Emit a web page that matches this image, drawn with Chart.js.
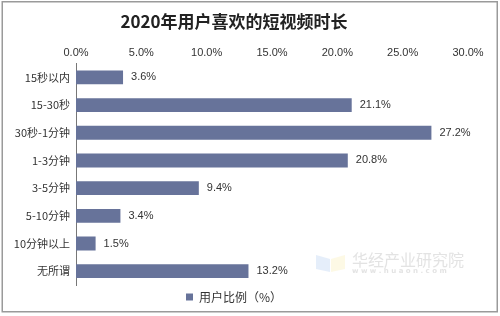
<!DOCTYPE html>
<html><head><meta charset="utf-8">
<script src="https://cdn.jsdelivr.net/npm/chart.js@4/dist/chart.umd.min.js"></script>
<style>html,body{margin:0;padding:0;background:#fff}#wrap{width:500px;height:316px;position:relative}</style>
</head><body><div id="wrap"><canvas id="c" width="500" height="316"></canvas></div>
<script>
const categories = ["15秒以内","15-30秒","30秒-1分钟","1-3分钟","3-5分钟","5-10分钟","10分钟以上","无所谓"];
const userShare = [3.6,21.1,27.2,20.8,9.4,3.4,1.5,13.2];
const seriesName = "用户比例（%）";
const titleText = "2020年用户喜欢的短视频时长";
const FONT = "'Noto Sans CJK SC','Noto Sans',sans-serif";

const framePlugin = {
  id:'frame',
  beforeDraw(chart){
    const ctx = chart.ctx;
    ctx.save();
    ctx.fillStyle='#fff';ctx.fillRect(0,0,chart.width,chart.height);
    ctx.strokeStyle='#9a9a9a';ctx.lineWidth=1.5;
    ctx.strokeRect(2.25,1.75,495,310);
    // watermark
    ctx.fillStyle='rgba(170,200,240,0.3)';
    ctx.beginPath();ctx.moveTo(316,255);ctx.lineTo(330,259);ctx.lineTo(330,272);ctx.lineTo(316,269);ctx.closePath();ctx.fill();
    ctx.fillStyle='rgba(250,235,170,0.3)';
    ctx.beginPath();ctx.moveTo(331,259);ctx.lineTo(345,255);ctx.lineTo(345,269);ctx.lineTo(331,272);ctx.closePath();ctx.fill();
    ctx.fillStyle='rgba(200,200,200,0.5)';
    ctx.font="16px "+FONT;ctx.textBaseline='middle';ctx.textAlign='left';
    ctx.fillText("华经产业研究院",352,260);
    ctx.font="bold 7px 'DejaVu Sans',sans-serif";
    ctx.fillText("w w w . h u a o n . c o m",352,271);
    ctx.restore();
  }
};
const labelPlugin = {
  id:'vals',
  afterDatasetsDraw(chart){
    const ctx=chart.ctx;const meta=chart.getDatasetMeta(0);
    ctx.save();ctx.font="11px 'Liberation Sans',Arial,sans-serif";ctx.fillStyle='#333';
    ctx.textBaseline='middle';ctx.textAlign='left';
    meta.data.forEach((el,i)=>{ctx.fillText(userShare[i].toFixed(1)+'%',el.x+8,el.y);});
    ctx.restore();
  }
};

new Chart(document.getElementById('c'),{
  type:'bar',
  data:{labels:categories,datasets:[{label:seriesName,data:userShare,backgroundColor:'#67739a',borderWidth:0,categoryPercentage:1,barPercentage:0.5}]},
  options:{
    indexAxis:'y',responsive:false,animation:false,devicePixelRatio:1,
    layout:{padding:{left:0,right:32,top:1,bottom:3}},
    scales:{
      x:{position:'top',min:0,max:30,
        ticks:{stepSize:5,color:'#333',font:{size:11,family:"'Liberation Sans',Arial,sans-serif"},padding:4,callback:v=>v.toFixed(1)+'%'},
        grid:{display:false,drawTicks:false},border:{display:false}},
      y:{ticks:{color:'#333',font:{size:11,family:FONT},padding:6},
        grid:{display:false,drawTicks:false},border:{display:true,color:'#777',width:1},
        afterFit(s){s.width=76;}}
    },
    plugins:{
      title:{display:true,text:titleText,color:'#222',font:{size:17,weight:'bold',family:FONT},padding:{top:10,bottom:11}},
      legend:{position:'bottom',labels:{color:'#333',boxWidth:7,boxHeight:7,font:{size:12,family:FONT},padding:6}},
      tooltip:{enabled:false}
    }
  },
  plugins:[framePlugin,labelPlugin]
});
</script></body></html>
